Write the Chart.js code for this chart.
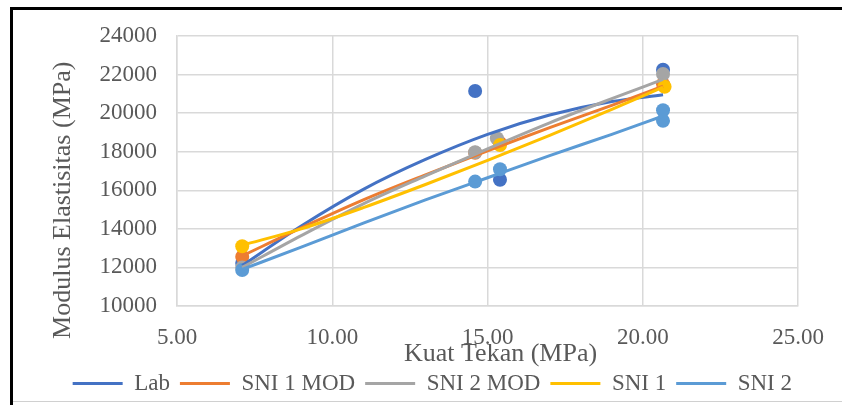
<!DOCTYPE html>
<html>
<head>
<meta charset="utf-8">
<script src="https://cdn.jsdelivr.net/npm/chart.js@4.4.1/dist/chart.umd.min.js"></script>
<style>
html, body { margin: 0; padding: 0; background: #ffffff; }
#c { display: block; }
</style>
</head>
<body>
<canvas id="c" width="842" height="405"></canvas>
<script>
// ---- data ----
const seriesNames  = ['Lab', 'SNI 1 MOD', 'SNI 2 MOD', 'SNI 1', 'SNI 2'];
const seriesColors = ['#4472C4', '#ED7D31', '#A5A5A5', '#FFC000', '#5B9BD5'];

// measured points (Kuat Tekan, Modulus Elastisitas)
const labX     = [7.1, 14.6, 15.4, 20.65];
const labY     = [12230, 21150, 16550, 22250];
const sni1ModX = [7.1, 14.6, 15.4, 20.65];
const sni1ModY = [12560, 17950, 18450, 21500];
const sni2ModX = [7.1, 14.6, 15.3, 20.65];
const sni2ModY = [12000, 17970, 18700, 22030];
const sni1X    = [7.1, 15.4, 20.7];
const sni1Y    = [13100, 18350, 21370];
const sni2X    = [7.1, 14.6, 15.4, 20.65, 20.65];
const sni2Y    = [11870, 16450, 17090, 20150, 19600];

// trendlines at these x positions
const trendX       = [7.1, 9, 11, 13, 15, 17, 19, 20.65];
const labTrend     = [12100, 14150, 16050, 17600, 18900, 19900, 20600, 20950];
const sni1ModTrend = [12600, 14050, 15500, 16800, 18050, 19250, 20400, 21400];
const sni2ModTrend = [12000, 13650, 15300, 16750, 18150, 19500, 20750, 21750];
const sni1Trend    = [13150, 14000, 15100, 16300, 17550, 18850, 20200, 21350];
const sni2Trend    = [11900, 13050, 14300, 15500, 16650, 17800, 18900, 19850];

const xTicks = [5, 10, 15, 20, 25];
const yTicks = [10000, 12000, 14000, 16000, 18000, 20000, 22000, 24000];

const xTitle = 'Kuat Tekan (MPa)';
const yTitle = 'Modulus Elastisitas (MPa)';

// ---- build datasets ----
const pts = (xs, ys) => xs.map((x, i) => ({ x: x, y: ys[i] }));
const trends = [labTrend, sni1ModTrend, sni2ModTrend, sni1Trend, sni2Trend];
const pointSets = [[labX, labY], [sni1ModX, sni1ModY], [sni2ModX, sni2ModY], [sni1X, sni1Y], [sni2X, sni2Y]];

const datasets = [];
trends.forEach((t, i) => {
  datasets.push({
    label: seriesNames[i],
    data: pts(trendX, t),
    showLine: true,
    borderColor: seriesColors[i],
    backgroundColor: seriesColors[i],
    borderWidth: 3,
    pointRadius: 0,
    cubicInterpolationMode: 'monotone',
    order: 5 - i
  });
});
pointSets.forEach((p, i) => {
  datasets.push({
    label: seriesNames[i] + ' data',
    data: pts(p[0], p[1]),
    showLine: false,
    borderColor: seriesColors[i],
    backgroundColor: seriesColors[i],
    borderWidth: 0,
    pointRadius: 7,
    order: 10 - i
  });
});

const FONT = "'Liberation Serif', 'Times New Roman', serif";
const TXT = '#595959';
const GRID = '#d9d9d9';

const framePlugin = {
  id: 'frame',
  beforeDraw(chart) {
    const ctx = chart.ctx;
    ctx.save();
    ctx.fillStyle = '#ffffff';
    ctx.fillRect(0, 0, chart.width, chart.height);
    ctx.fillStyle = '#000000';
    ctx.fillRect(10, 7, 3, chart.height - 7);
    ctx.fillRect(10, 7, chart.width - 10, 3);
    ctx.fillStyle = '#d0d0d0';
    ctx.fillRect(13, 401, chart.width - 13, 1);
    ctx.restore();
  }
};

new Chart(document.getElementById('c'), {
  type: 'scatter',
  data: { datasets: datasets },
  plugins: [framePlugin],
  options: {
    responsive: false,
    animation: false,
    layout: { padding: { left: 0, right: 40, top: 36, bottom: 0 } },
    plugins: {
      tooltip: { enabled: false },
      legend: {
        position: 'bottom',
        align: 'end',
        labels: {
          boxWidth: 50,
          boxHeight: 3,
          padding: 10,
          color: TXT,
          font: { family: FONT, size: 23 },
          generateLabels(chart) {
            const items = Chart.defaults.plugins.legend.labels.generateLabels(chart);
            return items
              .filter(it => it.datasetIndex < seriesNames.length)
              .sort((a, b) => a.datasetIndex - b.datasetIndex)
              .map(it => Object.assign({}, it, {
                fillStyle: seriesColors[it.datasetIndex],
                strokeStyle: seriesColors[it.datasetIndex],
                lineWidth: 0
              }));
          }
        }
      }
    },
    scales: {
      x: {
        type: 'linear',
        min: xTicks[0],
        max: xTicks[xTicks.length - 1],
        afterBuildTicks(scale) { scale.ticks = xTicks.map(v => ({ value: v })); },
        afterFit(scale) { scale.height = 56; },
        grid: { color: GRID, lineWidth: 1.5, drawTicks: false },
        border: { display: true, color: GRID, width: 1.5 },
        ticks: {
          padding: 18,
          color: TXT,
          font: { family: FONT, size: 23 },
          callback: v => Number(v).toFixed(2)
        },
        title: {
          display: true,
          text: '\u00a0\u00a0\u00a0\u00a0' + xTitle,
          color: TXT,
          font: { family: FONT, size: 26, lineHeight: 0.615 },
          padding: { top: 0, bottom: 0 }
        }
      },
      y: {
        type: 'linear',
        min: yTicks[0],
        max: yTicks[yTicks.length - 1],
        afterBuildTicks(scale) { scale.ticks = yTicks.map(v => ({ value: v })); },
        afterFit(scale) { scale.width = 177; },
        grid: { color: GRID, lineWidth: 1.5, drawTicks: false },
        border: { display: true, color: GRID, width: 1.5 },
        ticks: {
          padding: 20,
          color: TXT,
          font: { family: FONT, size: 23 },
          callback: v => String(v)
        },
        title: {
          display: true,
          text: yTitle + '\u00a0\u00a0\u00a0\u00a0\u00a0\u00a0\u00a0\u00a0\u00a0',
          color: TXT,
          font: { family: FONT, size: 26, lineHeight: 1 },
          padding: { top: 50, bottom: 0 }
        }
      }
    }
  }
});
</script>
</body>
</html>
